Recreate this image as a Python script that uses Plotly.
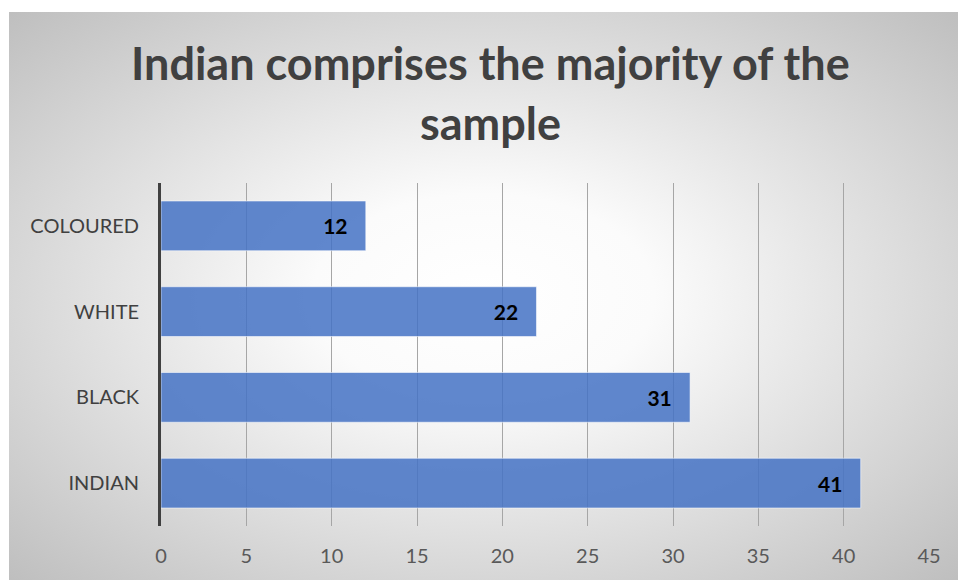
import base64
import plotly.graph_objects as go

categories = ["INDIAN", "BLACK", "WHITE", "COLOURED"]
values = [41, 31, 22, 12]
x_ticks = [0, 5, 10, 15, 20, 25, 30, 35, 40, 45]
title_lines = ["Indian comprises the majority of the", "sample"]

W, H = 958, 580
L, R, T, B = 161, 29, 183, 54
pw, ph = W - L - R, H - T - B

svg = (
    '<svg xmlns="http://www.w3.org/2000/svg" width="949" height="568" '
    'viewBox="0 0 100 100" preserveAspectRatio="none">'
    '<defs><radialGradient id="g" cx="50%" cy="50%" r="72%">'
    '<stop offset="0%" stop-color="#ffffff"/>'
    '<stop offset="25%" stop-color="#fbfbfb"/>'
    '<stop offset="100%" stop-color="#bdbdbd"/>'
    '</radialGradient></defs>'
    '<rect x="0" y="0" width="100" height="100" fill="url(#g)"/></svg>'
)
src = "data:image/svg+xml;base64," + base64.b64encode(svg.encode()).decode()

panel_x0, panel_y0 = 9, 12
img_x = (panel_x0 - L) / pw
img_y = (H - B - panel_y0) / ph
img_w = (W - panel_x0) / pw
img_h = (H - panel_y0) / ph


def py(pix):
    """pixel row -> paper y"""
    return (H - B - pix) / ph


fig = go.Figure(
    go.Bar(
        x=values,
        y=categories,
        orientation="h",
        marker=dict(color="rgba(68,114,196,0.85)",
                    line=dict(color="rgba(255,255,255,0.55)", width=1)),
        text=[f"{v}\u00a0\u00a0\u00a0" for v in values],
        textposition="inside",
        insidetextanchor="end",
        textfont=dict(family="Lato", size=21, color="#000000", weight="bold"),
        textangle=0,
        hoverinfo="skip",
    )
)

annotations = []
for line, ypix in zip(title_lines, [63, 123]):
    annotations.append(dict(
        text=line, xref="paper", yref="paper",
        x=(490 - L) / pw, y=py(ypix), xanchor="center", yanchor="middle",
        showarrow=False,
        font=dict(family="Lato", size=45, color="#404040", weight="bold"),
    ))

fig.update_layout(
    width=W,
    height=H,
    margin=dict(l=L, r=R, t=T, b=B, pad=0),
    paper_bgcolor="#ffffff",
    plot_bgcolor="rgba(0,0,0,0)",
    bargap=0.42,
    showlegend=False,
    annotations=annotations,
    images=[dict(
        source=src, xref="paper", yref="paper",
        x=img_x, y=img_y, sizex=img_w, sizey=img_h,
        xanchor="left", yanchor="top", sizing="stretch", layer="below",
    )],
    xaxis=dict(
        range=[0, 45],
        tickvals=x_ticks,
        ticktext=[str(t) for t in x_ticks],
        showgrid=True,
        gridcolor="#a6a6a6",
        gridwidth=1,
        zeroline=False,
        showline=False,
        ticks="",
        ticklabelstandoff=16,
        tickfont=dict(family="Lato", size=20, color="#595959"),
        fixedrange=True,
    ),
    yaxis=dict(
        categoryorder="array",
        categoryarray=categories,
        showgrid=False,
        zeroline=False,
        showline=True,
        linecolor="#404040",
        linewidth=3,
        ticks="",
        ticklabelstandoff=15,
        tickfont=dict(family="Lato", size=20, color="#404040"),
        fixedrange=True,
    ),
)

fig.write_html("out.html")
